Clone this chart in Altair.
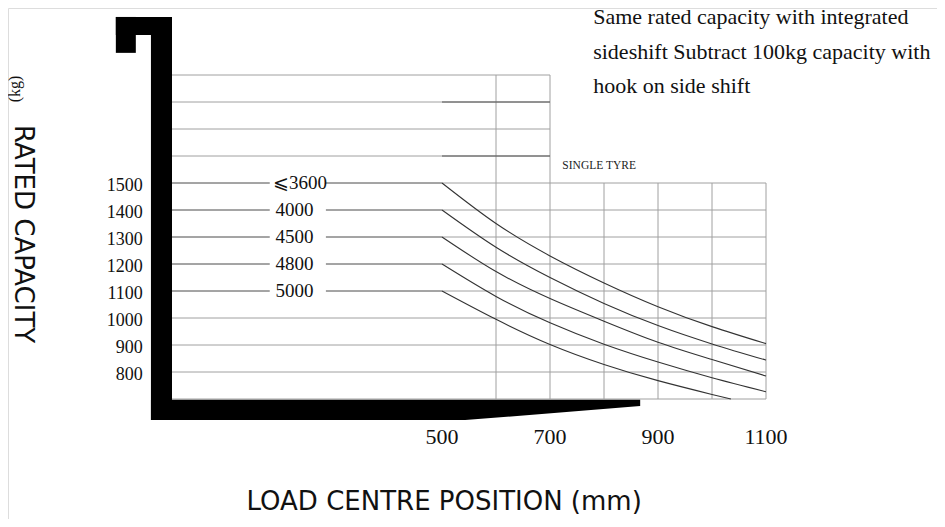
import altair as alt
import pandas as pd

# ---------------- data ----------------
load_centres = [500, 600, 700, 800, 900, 1000, 1100]          # mm
cap_3600 = [1500, 1350, 1230, 1130, 1042, 968, 905]           # kg
cap_4000 = [1400, 1262, 1150, 1054, 972, 904, 844]
cap_4500 = [1300, 1172, 1072, 988, 910, 846, 785]
cap_4800 = [1200, 1080, 982, 903, 837, 779, 727]
load_centres_5000 = [500, 600, 700, 800, 900, 1000, 1035]
cap_5000 = [1100, 995, 902, 828, 768, 717, 700]
lift_labels = ["⩽3600", "4000", "4500", "4800", "5000"]
lift_label_mm = [237, 227, 227, 227, 227]

y_tick_values = [1500, 1400, 1300, 1200, 1100, 1000, 900, 800]
x_tick_values = [500, 700, 900, 1100]

upper_grid_kg = [1900, 1800, 1700, 1600]        # rows drawn 0..700 mm
lower_grid_kg = [1500, 1400, 1300, 1200, 1100, 1000, 900, 800, 700]  # 0..1100 mm
upper_grid_mm = [600, 700]                       # columns 700..1900 kg
lower_grid_mm = [800, 900, 1000, 1100]           # columns 700..1500 kg
overlap_kg = [1800, 1600]                        # darker overlapping segments 500..700

note_lines = ["Same rated capacity with integrated",
              "sideshift Subtract 100kg capacity with",
              "hook on side shift"]
note_baseline_kg = [2089, 1961, 1833]
note_mm = 780

# fork outline (mm, kg)
fork_x = [-104, -104, -39]
fork_x2 = [0, -67, 0]
fork_y = [2048, 1982, 622]
fork_y2 = [2115, 2115, 2115]
blade_mm = [-39, 543, 867]
blade_top = [697, 697, 697]
blade_bottom = [622, 622, 674]

# ---------------- scales ----------------
W, H = 929, 511
PX_MM, ORIGIN_PX = 0.54, 164
PX_KG, Y1500_PX = 0.27, 175
x_dom = [-ORIGIN_PX / PX_MM, (W - ORIGIN_PX) / PX_MM]
y_dom = [1500 - (H - Y1500_PX) / PX_KG, 1500 + Y1500_PX / PX_KG]
xs = alt.Scale(domain=x_dom, nice=False, zero=False)
ys = alt.Scale(domain=y_dom, nice=False, zero=False)


def X(f):
    return alt.X(f, type="quantitative", scale=xs, axis=None)


def Y(f):
    return alt.Y(f, type="quantitative", scale=ys, axis=None)


GRID = "#a0a0a0"
CURVE = "#333333"
SERIF = "Liberation Serif"
SANS = "DejaVu Sans"

# grid
gh = pd.DataFrame([{"x": 0, "x2": 700, "y": k} for k in upper_grid_kg] +
                  [{"x": 0, "x2": 1100, "y": k} for k in lower_grid_kg])
gv = pd.DataFrame([{"x": m, "y": 700, "y2": 1900} for m in upper_grid_mm] +
                  [{"x": m, "y": 700, "y2": 1500} for m in lower_grid_mm])
gd = pd.DataFrame([{"x": 500, "x2": 700, "y": k} for k in overlap_kg])

grid_h = alt.Chart(gh).mark_rule(color=GRID, strokeWidth=1).encode(
    x=X("x"), x2="x2", y=Y("y"))
grid_v = alt.Chart(gv).mark_rule(color=GRID, strokeWidth=1).encode(
    x=X("x"), y=Y("y"), y2="y2")
grid_d = alt.Chart(gd).mark_rule(color="#555555", strokeWidth=1).encode(
    x=X("x"), x2="x2", y=Y("y"))

# curves
series = [
    (lift_labels[0], load_centres, cap_3600),
    (lift_labels[1], load_centres, cap_4000),
    (lift_labels[2], load_centres, cap_4500),
    (lift_labels[3], load_centres, cap_4800),
    (lift_labels[4], load_centres_5000, cap_5000),
]
rows = []
flats = []
for name, mm, kg in series:
    for m, k in zip(mm, kg):
        rows.append({"s": name, "mm": m, "kg": k})
    flats.append({"s": name, "x": 0, "x2": mm[0], "y": kg[0]})
curves_df = pd.DataFrame(rows)
flats_df = pd.DataFrame(flats)

curves = alt.Chart(curves_df).mark_line(color=CURVE, strokeWidth=1.1,
                                        interpolate="natural").encode(
    x=X("mm"), y=Y("kg"), detail="s:N", order="mm:Q")
flat = alt.Chart(flats_df).mark_rule(color="#7a7a7a", strokeWidth=1).encode(
    x=X("x"), x2="x2", y=Y("y"))

lab_df = pd.DataFrame({"t": lift_labels, "x": lift_label_mm,
                       "y": [s[2][0] for s in series]})
lab_df["y0"] = lab_df["y"] - 6
lab_df["y1"] = lab_df["y"] + 6
lab_df["g0"] = 181
lab_df["g1"] = 285
gaps = alt.Chart(lab_df).mark_rect(color="white").encode(
    x=X("g0"), x2="g1", y=Y("y0"), y2="y1")
labels = alt.Chart(lab_df).mark_text(font=SERIF, fontSize=19, color="#111",
                                     baseline="middle", align="center").encode(
    x=X("x"), y=Y("y"), text="t:N")

# fork
fork_df = pd.DataFrame({"x": fork_x, "x2": fork_x2, "y": fork_y, "y2": fork_y2})
fork = alt.Chart(fork_df).mark_rect(color="black").encode(
    x=X("x"), x2="x2", y=Y("y"), y2="y2")
blade_df = pd.DataFrame({"x": blade_mm, "top": blade_top, "bot": blade_bottom})
blade = alt.Chart(blade_df).mark_area(color="black", opacity=1).encode(
    x=X("x"), y=Y("top"), y2="bot")

# tick labels
yt = pd.DataFrame({"v": y_tick_values, "t": [str(v) for v in y_tick_values]})
yt["x"] = -54
ytext = alt.Chart(yt).mark_text(font=SERIF, fontSize=18, color="#111",
                                align="right", baseline="middle", dy=2.5).encode(
    x=X("x"), y=Y("v"), text="t:N")
xt = pd.DataFrame({"v": x_tick_values, "t": [str(v) for v in x_tick_values]})
xt["y"] = 559
xtext = alt.Chart(xt).mark_text(font=SERIF, fontSize=22, color="#111",
                                align="center", baseline="middle").encode(
    x=X("v"), y=Y("y"), text="t:N")

# annotations
note_df = pd.DataFrame({"t": note_lines, "y": note_baseline_kg})
note_df["x"] = note_mm
note = alt.Chart(note_df).mark_text(font=SERIF, fontSize=22, color="#111",
                                    align="left", baseline="alphabetic").encode(
    x=X("x"), y=Y("y"), text="t:N")

tyre_df = pd.DataFrame({"t": ["SINGLE TYRE"], "x": [791], "y": [1563]})
tyre = alt.Chart(tyre_df).mark_text(font=SERIF, fontSize=11.5, color="#222",
                                    align="center", baseline="middle").encode(
    x=X("x"), y=Y("y"), text="t:N")

xtitle_df = pd.DataFrame({"t": ["LOAD CENTRE POSITION (mm)"], "x": [504], "y": [290]})
xtitle = alt.Chart(xtitle_df).mark_text(font=SANS, fontSize=26, color="#111",
                                        align="center", baseline="alphabetic").encode(
    x=X("x"), y=Y("y"), text="t:N")

ytitle_df = pd.DataFrame({"t": ["RATED CAPACITY"], "x": [-276], "y": [1311]})
ytitle = alt.Chart(ytitle_df).mark_text(font=SANS, fontSize=26, color="#111",
                                        angle=90, align="center",
                                        baseline="middle").encode(
    x=X("x"), y=Y("y"), text="t:N")

unit_df = pd.DataFrame({"t": ["(kg)"], "x": [-290], "y": [1848]})
unit = alt.Chart(unit_df).mark_text(font=SERIF, fontSize=16, color="#111",
                                    angle=270, align="center",
                                    baseline="middle").encode(
    x=X("x"), y=Y("y"), text="t:N")

chart = alt.layer(grid_h, grid_v, grid_d, flat, curves, gaps, labels,
                  fork, blade, ytext, xtext, note, tyre, xtitle, ytitle, unit
                  ).properties(width=W, height=H, padding=0,
                               autosize=alt.AutoSizeParams(type="none")
                  ).configure_view(stroke=None).configure(background="white")

chart.save("out.html", embed_options={"renderer": "svg", "actions": False})
